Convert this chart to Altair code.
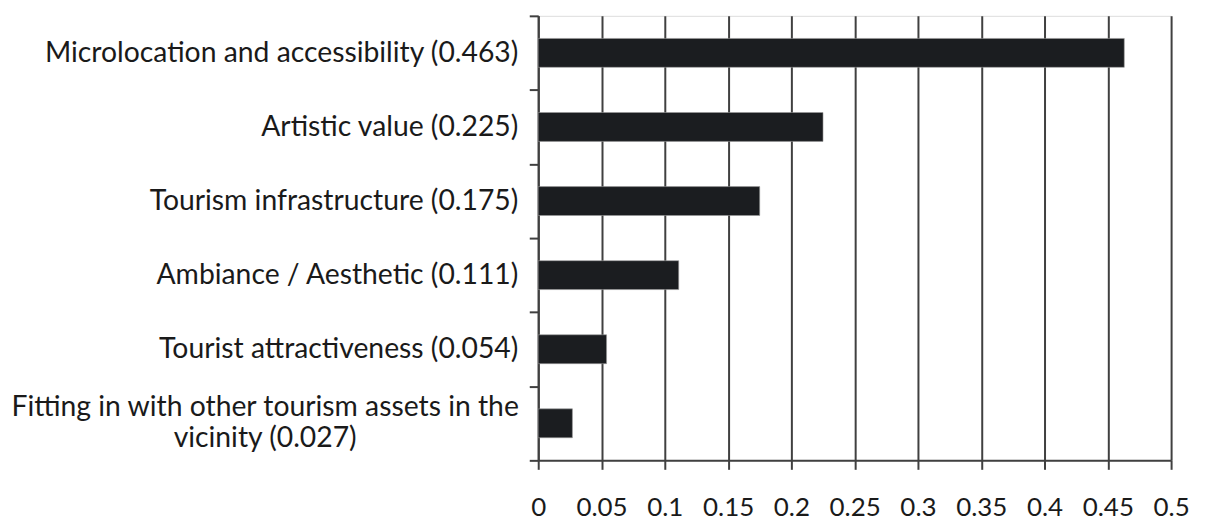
import altair as alt
import pandas as pd

categories = [
    "Microlocation and accessibility (0.463)",
    "Artistic value (0.225)",
    "Tourism infrastructure (0.175)",
    "Ambiance / Aesthetic (0.111)",
    "Tourist attractiveness (0.054)",
    "Fitting in with other tourism assets in the\nvicinity (0.027)",
]
values = [0.463, 0.225, 0.175, 0.111, 0.054, 0.027]
x_ticks = [0, 0.05, 0.1, 0.15, 0.2, 0.25, 0.3, 0.35, 0.4, 0.45, 0.5]
wrapped = [False, False, False, False, False, True]

df = pd.DataFrame({"label": categories, "value": values, "wrapped": wrapped})

FONT = "Lato"
INK = "#1a1a1a"
GRID = "#404040"
BAR = "#1b1d20"
YSIZE = 28.4

y_enc = alt.Y(
    "label:N",
    sort=categories,
    scale=alt.Scale(paddingInner=0, paddingOuter=0),
    axis=alt.Axis(
        title=None,
        labels=False,
        tickBand="extent",
        domainColor=GRID,
        domainWidth=2,
        tickColor=GRID,
        tickWidth=2,
        tickSize=9,
    ),
)

base = alt.Chart(df)

bars = base.mark_bar(
    color=BAR, stroke="#9a9a9a", strokeWidth=0.6, height={"band": 0.39}
).encode(
    x=alt.X(
        "value:Q",
        scale=alt.Scale(domain=[0, 0.5], nice=False, zero=True),
        axis=alt.Axis(
            values=x_ticks,
            format="~g",
            title=None,
            grid=True,
            gridColor=GRID,
            gridWidth=2,
            domainColor=GRID,
            domainWidth=2,
            tickColor=GRID,
            tickWidth=2,
            tickSize=9,
            labelFont=FONT,
            labelFontSize=26,
            labelColor=INK,
            labelPadding=25,
            labelFlush=False,
            labelOverlap=False,
        ),
    ),
    y=y_enc,
)

labels_right = (
    base.transform_filter("!datum.wrapped")
    .mark_text(align="right", baseline="middle", font=FONT, fontSize=YSIZE, color=INK)
    .encode(x=alt.value(-20), y=alt.Y("label:N", sort=categories), text="label:N")
)

labels_center = (
    base.transform_filter("datum.wrapped")
    .mark_text(align="center", baseline="middle", font=FONT, fontSize=YSIZE, color=INK,
               lineBreak="\n", lineHeight=31, dy=-16)
    .encode(x=alt.value(-274), y=alt.Y("label:N", sort=categories), text="label:N")
)

chart = (
    alt.layer(bars, labels_right, labels_center)
    .properties(
        width=635,
        height=446,
        autosize=alt.AutoSizeParams(type="none"),
        padding={"left": 532, "top": 7, "right": 30, "bottom": 62},
    )
    .configure_view(stroke=None)
    .configure(background="white")
)

chart.save("out.html", embed_options={"renderer": "svg", "actions": False})
